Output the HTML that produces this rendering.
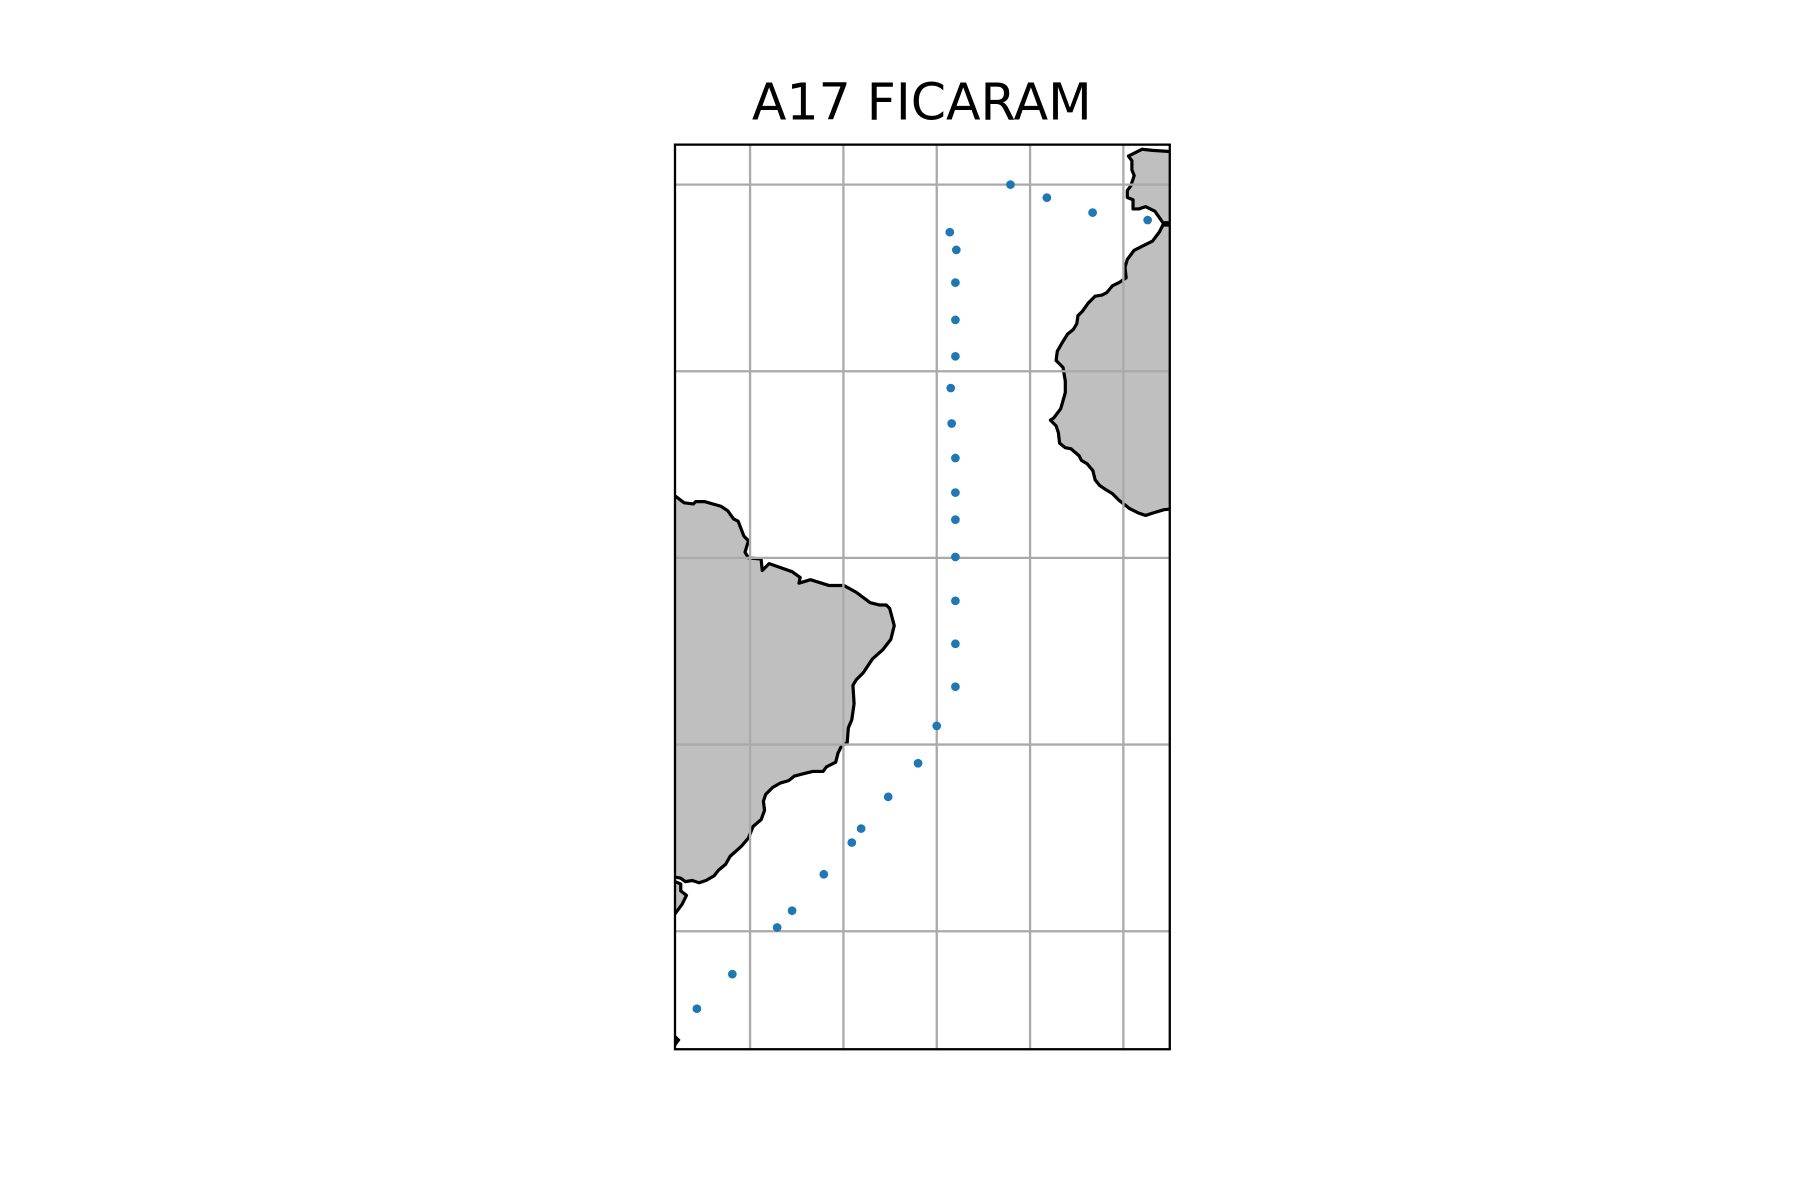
<!DOCTYPE html>
<html><head><meta charset="utf-8"><style>html,body{margin:0;padding:0;background:#fff}svg{display:block}</style></head>
<body>
<svg id="chart" width="1800" height="1200" viewBox="0 0 1568 1045.33" xmlns="http://www.w3.org/2000/svg">
<text x="803" y="104" text-anchor="middle" font-family="DejaVu Sans, Liberation Sans, sans-serif" font-size="44">A17 FICARAM</text>
<defs><clipPath id="clip"><rect x="588" y="126" width="431" height="788"/></clipPath></defs>
<g clip-path="url(#clip)">
<polygon fill="#bfbfbf" stroke="#000" stroke-width="2.8" stroke-linejoin="round" points="580,432 588,432 596,438 604,439 606,437 614,437 628,441 634,445 639,452 643,454 648,467 652,471 649,481 652,486 663,487 664,497 670,491 690,498 697,503 696,508 706,505 722,510 735,510 746,516 758,525 766,527 772,527 775,530 779,545 776,557 769,566 760,574 752,586 746,592 743,597 744,613 742,627 739,634 738,647 733,650 730,656 728,664 720,668 717,672 708,672 700,674 692,676 687,680 680,682 673,686 667,692 665,698 666,706 663,714 656,720 652,730 646,737 636,746 632,753 626,758 622,763 615,767 609,769 603,767 597,768 593,765 588,764 580,764"/>
<polygon fill="#bfbfbf" stroke="#000" stroke-width="2.8" stroke-linejoin="round" points="580,768 588,768 593,770 593,776 598,780 594,788 588,796 580,796"/>
<polygon fill="#bfbfbf" stroke="#000" stroke-width="2.8" points="580,903 588,903 591,906 588,910 580,910"/>
<polygon fill="#bfbfbf" stroke="#000" stroke-width="2.8" stroke-linejoin="round" points="1025,132 1019,132 1004,131 995,130 983,136 986,140 986,148 988,153 985,162 982,166 982,172 987,174 987,182 992,182 998,180 1006,184 1011,191 1013,194 1025,194"/>
<polygon fill="#bfbfbf" stroke="#000" stroke-width="2.8" stroke-linejoin="round" points="1025,196 1013,196 1010,202 1004,210 994,215 988,218 982,226 980,233 981,242 975,246 969,249 964,255 960,257 954,258 948,264 943,271 939,275 938,282 935,287 930,291 925,299 921,306 920,314 926,320 928,332 928,342 926,349 924,356 918,364 915,366 920,371 922,377 923,386 928,390 933,391 940,397 942,401 947,404 952,410 954,418 958,423 964,427 969,430 975,436 984,443 992,447 998,449 1004,447 1014,444 1025,443"/>
<g id="grid"></g>
<g id="pts"></g>
</g>
<rect x="588" y="126" width="431" height="788" fill="none" stroke="#000" stroke-width="2"/>
<script>
const lonTicks = [-50, -40, -30, -20, -10];
const latTicks = [40, 20, 0, -20, -40];
const stationLon = [-22.1,-18.2,-13.3,-7.4,-28.6,-27.9,-28.0,-28.0,-28.0,-28.5,-28.4,-28.0,-28.0,-28.0,-28.0,-28.0,-28.0,-28.0,-30.0,-32.0,-35.2,-38.1,-39.1,-42.1,-45.5,-47.1,-51.9,-55.7];
const stationLat = [40.0,38.6,37.0,36.2,34.9,33.0,29.5,25.5,21.6,18.2,14.4,10.7,7.0,4.1,0.1,-4.6,-9.2,-13.8,-18.0,-22.0,-25.6,-29.0,-30.5,-33.9,-37.8,-39.6,-44.6,-48.3];
const NS = 'http://www.w3.org/2000/svg';
const PX = 8.13;
function xs(lon){ return 816 + (lon + 30) * PX; }
function ys(lat){ return 486 - lat * PX; }
const grid = document.getElementById('grid');
lonTicks.forEach(function(v){
  const l = document.createElementNS(NS,'line');
  l.setAttribute('x1', xs(v)); l.setAttribute('x2', xs(v));
  l.setAttribute('y1', 126); l.setAttribute('y2', 914);
  l.setAttribute('stroke','#aaaaaa'); l.setAttribute('stroke-width','2');
  
  
  grid.appendChild(l);
});
latTicks.forEach(function(v){
  const l = document.createElementNS(NS,'line');
  l.setAttribute('x1', 588); l.setAttribute('x2', 1019);
  l.setAttribute('y1', ys(v)); l.setAttribute('y2', ys(v));
  l.setAttribute('stroke','#aaaaaa'); l.setAttribute('stroke-width','2');
  
  
  grid.appendChild(l);
});
const pts = document.getElementById('pts');
stationLon.forEach(function(lon, i){
  const c = document.createElementNS(NS,'circle');
  c.setAttribute('cx', xs(lon)); c.setAttribute('cy', ys(stationLat[i]));
  c.setAttribute('r', 3.8); c.setAttribute('fill', '#1f77b4');
  
  
  pts.appendChild(c);
});
</script>
</svg>
</body></html>
